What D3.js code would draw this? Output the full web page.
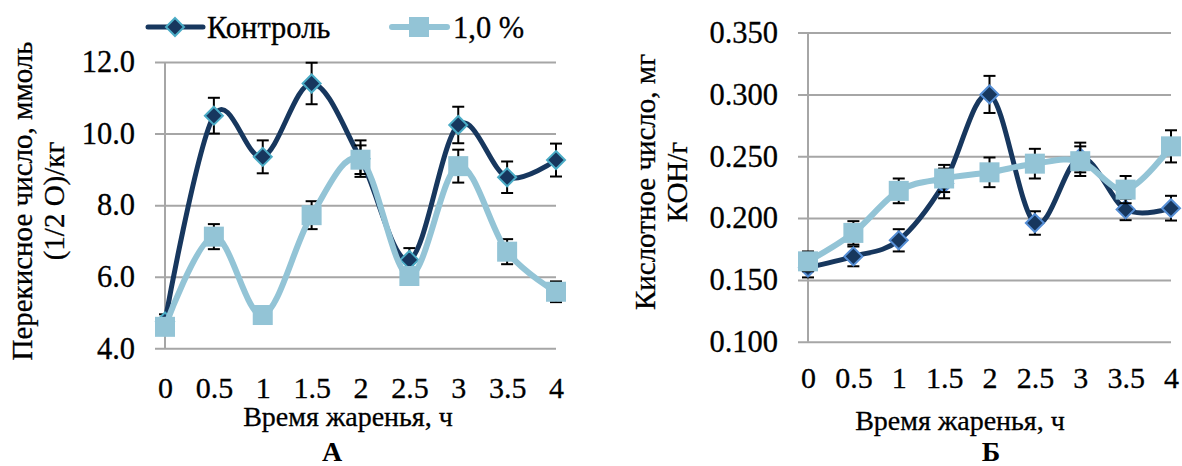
<!DOCTYPE html>
<html>
<head>
<meta charset="utf-8">
<script src="https://cdn.jsdelivr.net/npm/d3@7"></script>
<style>
    body { margin: 0; background: #fff; }
</style>
</head>
<body>
<div id="chart"></div>
<script>
const hours = [0, 0.5, 1, 1.5, 2, 2.5, 3, 3.5, 4];
const hourLabels = ["0", "0.5", "1", "1.5", "2", "2.5", "3", "3.5", "4"];
const seriesNames = ["Контроль", "1,0 %"];

// panel A - peroxide value
const peroxideControl = [4.75, 10.5, 9.35, 11.4, 9.3, 6.47, 10.24, 8.78, 9.26];
const peroxideControlErr = [0.2, 0.5, 0.46, 0.58, 0.51, 0.33, 0.51, 0.44, 0.46];
const peroxideDose = [4.6, 7.12, 4.93, 7.72, 9.27, 6.02, 9.09, 6.7, 5.58];
const peroxideDoseErr = [0.15, 0.35, 0.15, 0.39, 0.4, 0.22, 0.46, 0.35, 0.29];
const peroxideTicks = [4, 6, 8, 10, 12];

// panel B - acid value
const acidControl = [0.160, 0.169, 0.182, 0.228, 0.300, 0.196, 0.249, 0.207, 0.208];
const acidControlErr = [0.008, 0.008, 0.009, 0.012, 0.015, 0.0095, 0.012, 0.0087, 0.01];
const acidDose = [0.165, 0.188, 0.222, 0.232, 0.237, 0.244, 0.246, 0.223, 0.258];
const acidDoseErr = [0.008, 0.0095, 0.01, 0.011, 0.012, 0.012, 0.012, 0.011, 0.013];
const acidTicks = [0.1, 0.15, 0.2, 0.25, 0.3, 0.35];

const FONT = "Liberation Serif";

function init() {
    const width = 1182, height = 466;
    const darkColor = "#17375E", lightColor = "#93C4D6", gridColor = "#A6A6A6";

    const svg = d3.select("#chart")
        .append("svg")
        .attr("width", width)
        .attr("height", height);

    svg.append("rect").attr("width", width).attr("height", height).attr("fill", "#fff");

    const diamond = "M0,-9L9,0L0,9L-9,0Z";

    // slightly heavier glyphs, like the scanned original
    const ink = sel => sel.attr("fill", "#000").attr("stroke", "#000").attr("stroke-width", 0.3);

    const drawPanel = (p) => {
        const x = d3.scaleLinear().domain([0, 4]).range([p.left, p.right]);
        const y = d3.scaleLinear().domain(p.domain).range([p.bottom, p.top]);
        const g = svg.append("g");

        // gridlines + outward tick marks
        const yAxis = g.append("g")
            .attr("transform", `translate(${p.left - 10},0)`)
            .call(d3.axisLeft(y).tickValues(p.ticks).tickFormat(d3.format(p.fmt))
                .tickSize(-(p.right - p.left + 10)).tickPadding(20));
        yAxis.select(".domain").remove();
        yAxis.selectAll("line").attr("stroke", gridColor).attr("stroke-width", 2);
        yAxis.selectAll("text")
            .call(ink)
            .attr("font-family", FONT)
            .attr("font-size", 30.5);

        g.append("line")
            .attr("x1", p.left).attr("x2", p.left)
            .attr("y1", p.top).attr("y2", p.bottom)
            .attr("stroke", gridColor).attr("stroke-width", 2);

        const xAxis = g.append("g")
            .attr("transform", `translate(0,${p.bottom})`)
            .call(d3.axisBottom(x).tickValues(hours).tickFormat((d, i) => hourLabels[i])
                .tickSize(0).tickPadding(p.xPad));
        xAxis.select(".domain").remove();
        xAxis.selectAll("text")
            .call(ink)
            .attr("font-family", FONT)
            .attr("font-size", 30);

        g.append("text")
            .attr("x", p.xTitleX).attr("y", p.xTitleY)
            .attr("text-anchor", "middle").attr("dominant-baseline", "central")
            .attr("font-family", FONT)
            .attr("font-size", 28)
            .call(ink)
            .text("Время жаренья, ч");

        const yTitle = g.append("text")
            .attr("transform", `translate(${p.yTitleX},${p.yTitleY}) rotate(-90)`)
            .attr("text-anchor", "middle")
            .attr("font-family", FONT)
            .attr("font-size", 29)
            .call(ink);
        p.yTitle.forEach((line, i) => {
            yTitle.append("tspan")
                .attr("x", 0)
                .attr("y", i * 32 - 6)
                .text(line);
        });

        g.append("text")
            .attr("x", p.letterX).attr("y", p.letterY)
            .attr("text-anchor", "middle")
            .attr("font-family", FONT)
            .attr("font-size", 28).attr("font-weight", "bold")
            .text(p.letter);

        const line = d3.line()
            .x((d, i) => x(hours[i]))
            .y(d => y(d))
            .curve(d3.curveCardinal.tension(0));

        const errorBars = (values, errs) => {
            const eb = g.append("g").attr("stroke", "#000").attr("stroke-width", 2);
            values.forEach((v, i) => {
                const cx = x(hours[i]);
                const y1 = y(v - errs[i]), y2 = y(v + errs[i]);
                eb.append("line").attr("x1", cx).attr("x2", cx).attr("y1", y1).attr("y2", y2);
                eb.append("line").attr("x1", cx - 6).attr("x2", cx + 6).attr("y1", y1).attr("y2", y1);
                eb.append("line").attr("x1", cx - 6).attr("x2", cx + 6).attr("y1", y2).attr("y2", y2);
            });
        };

        // control series
        errorBars(p.control, p.controlErr);
        g.append("path")
            .datum(p.control)
            .attr("d", line)
            .attr("fill", "none")
            .attr("stroke", darkColor)
            .attr("stroke-width", 5);
        g.selectAll(".dmd")
            .data(p.control)
            .enter()
            .append("path")
            .attr("d", diamond)
            .attr("transform", (d, i) => `translate(${x(hours[i])},${y(d)})`)
            .attr("fill", darkColor)
            .attr("stroke", p.diamondStroke)
            .attr("stroke-width", 2);

        // 1,0 % series
        errorBars(p.dose, p.doseErr);
        g.append("path")
            .datum(p.dose)
            .attr("d", line)
            .attr("fill", "none")
            .attr("stroke", lightColor)
            .attr("stroke-width", 6);
        g.selectAll(".sq")
            .data(p.dose)
            .enter()
            .append("rect")
            .attr("x", (d, i) => x(hours[i]) - 10)
            .attr("y", d => y(d) - 10)
            .attr("width", 20)
            .attr("height", 20)
            .attr("fill", lightColor);
    };

    drawPanel({
        left: 165, right: 556, top: 62, bottom: 348.3,
        domain: [4, 12], ticks: peroxideTicks, fmt: ".1f", xPad: 28,
        control: peroxideControl, controlErr: peroxideControlErr,
        dose: peroxideDose, doseErr: peroxideDoseErr,
        diamondStroke: "#4BACC6",
        xTitleX: 348, xTitleY: 416,
        yTitleX: 38, yTitleY: 201,
        yTitle: ["Перекисное число, ммоль", "(1/2 О)/кг"],
        letter: "А", letterX: 332, letterY: 461
    });

    drawPanel({
        left: 808, right: 1171, top: 32.6, bottom: 341.7,
        domain: [0.1, 0.35], ticks: acidTicks, fmt: ".3f", xPad: 25,
        control: acidControl, controlErr: acidControlErr,
        dose: acidDose, doseErr: acidDoseErr,
        diamondStroke: "#558ED5",
        xTitleX: 960, xTitleY: 420,
        yTitleX: 661, yTitleY: 182,
        yTitle: ["Кислотное число, мг", "КОН/г"],
        letter: "Б", letterX: 991, letterY: 461
    });

    // legend (panel A only)
    const legend = svg.append("g");
    legend.append("line")
        .attr("x1", 148).attr("x2", 203).attr("y1", 27).attr("y2", 27)
        .attr("stroke", darkColor).attr("stroke-width", 5).attr("stroke-linecap", "round");
    legend.append("path")
        .attr("d", diamond)
        .attr("transform", "translate(175,27)")
        .attr("fill", darkColor).attr("stroke", "#4BACC6").attr("stroke-width", 2);
    legend.append("text").attr("x", 207).attr("y", 38)
        .attr("font-family", FONT).attr("font-size", 30.5)
        .call(ink)
        .text(seriesNames[0]);

    legend.append("line")
        .attr("x1", 392).attr("x2", 447).attr("y1", 27).attr("y2", 27)
        .attr("stroke", lightColor).attr("stroke-width", 6).attr("stroke-linecap", "round");
    legend.append("rect")
        .attr("x", 409).attr("y", 17).attr("width", 20).attr("height", 20)
        .attr("fill", lightColor);
    legend.append("text").attr("x", 453).attr("y", 38)
        .attr("font-family", FONT).attr("font-size", 30.5)
        .call(ink)
        .text(seriesNames[1]);
}

init();
</script>
</body>
</html>
